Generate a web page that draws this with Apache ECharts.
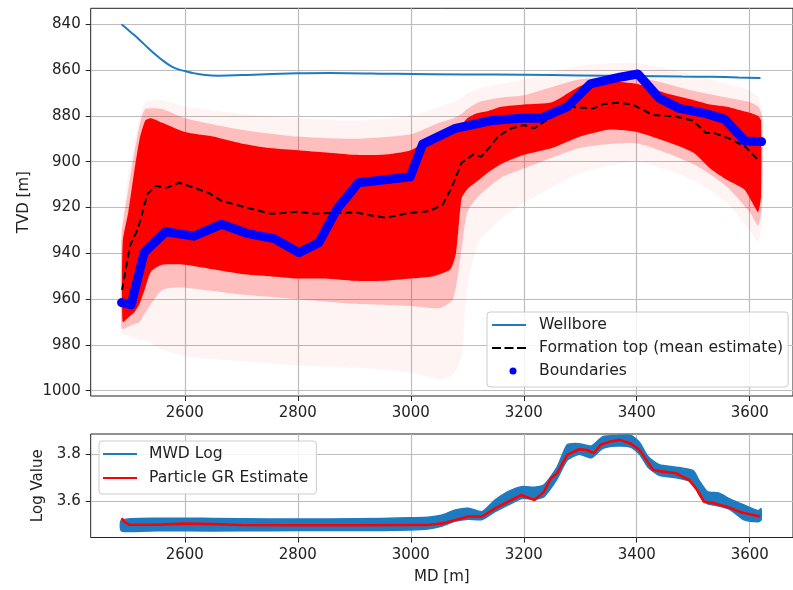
<!DOCTYPE html>
<html><head><meta charset="utf-8">
<script src="https://cdn.jsdelivr.net/npm/echarts@6/dist/echarts.min.js"></script>
<style>html,body{margin:0;padding:0;background:#fff}#c{width:793px;height:590px}</style>
</head><body><div id="c"></div><script>
// ---- tick labels ----
const mdTicks = [2600, 2800, 3000, 3200, 3400, 3600];
const tvdTicks = [840, 860, 880, 900, 920, 940, 960, 980, 1000];
const logTicks = [3.6, 3.8];

// ---- wellbore ----
const wellMD  = [2488,2500,2510,2520,2535,2549,2563,2577,2590,2600,2615,2636,2659,2711,2799,2857,2974,3100,3200,3300,3400,3480,3533,3580,3619];
const wellTVD = [840,842.5,844.6,846.8,850.3,853.4,856.2,858.5,859.8,860.4,861.3,862.1,862.4,862.1,861.4,861.2,861.6,861.9,862.0,862.3,862.6,862.8,862.9,863.2,863.4];

// ---- formation top (mean estimate) ----
const meanMD  = [2489,2503,2517,2534,2549,2566,2590,2616,2642,2665,2706,2752,2775,2799,2828,2869,2904,2930,2957,2997,3032,3056,3073,3090,3111,3125,3143,3154,3178,3201,3219,3236,3283,3324,3341,3370,3394,3429,3469,3499,3522,3539,3563,3592,3615];
const meanTVD = [956,936.6,929.3,914,910.5,911.5,909.2,911.3,913.6,917.1,919.8,922.7,922.4,921.8,922.7,922.3,922.2,923.5,924.4,922.4,921.6,918.9,910.9,900.4,896.8,897.8,892.7,889,885.4,884,885.4,882.5,876,876.7,874.8,874.2,875.2,879.6,880.3,882,887.3,887.6,889.8,893.4,899.3];

// ---- boundaries ----
const bndMD  = [2488,2505,2528,2566,2616,2665,2712,2758,2802,2837,2869,2907,2974,2999,3021,3079,3143,3196,3231,3277,3318,3370,3402,3440,3475,3521,3556,3591,3621];
const bndTVD = [961.5,962.5,939.6,930.6,932.5,927.3,931.4,933.6,939.7,935.4,920.8,909.2,907.3,906.6,892.3,885.4,882,881,881,876,866,863.1,861.7,872.3,876.7,878.9,881.5,890.9,891.2];

// ---- particle cloud: dense core envelope ----
const coreMD  = [2490,2500,2510,2520,2530,2540,2560,2600,2650,2700,2750,2800,2850,2900,2950,3000,3040,3070,3080,3090,3100,3115,3135,3160,3200,3250,3300,3350,3400,3450,3500,3530,3560,3590,3605,3615,3620];
const coreTop = [935,922,905,890,882,881,883,887,889,892,894,895,896,897,897,895,889,887,886,884,881,879,878,876,875,874,867,865,866,870,873,875,876,878,879,880,882];
const coreBot = [970,968,966,962,955,948,945,945,947,949,950,951,951,952,952,951,950,947,940,916,912,909,905,901,897,894,889,886,887,891,896,903,908,912,918,922,915];

// ---- particle cloud: semi-dense streak envelope ----
const midMD  = [2488,2500,2510,2520,2530,2560,2600,2700,2800,2900,3000,3050,3075,3090,3100,3120,3160,3200,3300,3400,3500,3560,3600,3615,3622];
const midTop = [932,912,897,884,877,877,881,886,889,890,888,883,881,879,877,874,872,871,864,863,869,872,874,876,880];
const midBot = [973,972,971,970,966,956,955,958,960,962,963,964,960,938,922,915,907,903,894,892,901,911,922,928,918];

// ---- particle cloud: faint outer envelope ----
const haloMD  = [2488,2500,2510,2520,2530,2560,2600,2700,2800,2900,3000,3050,3075,3090,3100,3120,3160,3200,3300,3400,3500,3560,3600,3615,3622];
const haloTop = [930,905,893,880,874,873,876,879,881,882,880,876,874,872,870,868,866,864,858,857,862,866,869,872,878];
const haloBot = [975,976,977,978,978,982,985,987,989,990,992,995,993,985,955,935,925,918,905,900,908,918,930,935,925];

// ---- MWD log envelope (noisy log) ----
const mwdMD = [2488,2550,2650,2750,2850,2950,3000,3030,3056,3079,3102,3126,3149,3172,3196,3219,3236,3259,3277,3298,3320,3340,3365,3390,3405,3420,3440,3470,3500,3510,3525,3545,3565,3590,3615,3620];
const mwdHi = [3.52,3.528,3.527,3.525,3.525,3.527,3.53,3.532,3.542,3.563,3.57,3.556,3.605,3.641,3.662,3.66,3.67,3.745,3.84,3.845,3.835,3.875,3.88,3.88,3.85,3.79,3.755,3.745,3.73,3.69,3.641,3.635,3.61,3.584,3.56,3.568];
const mwdLo = [3.474,3.475,3.474,3.475,3.476,3.476,3.478,3.482,3.495,3.516,3.524,3.522,3.556,3.584,3.612,3.61,3.62,3.695,3.775,3.8,3.785,3.825,3.835,3.83,3.8,3.745,3.71,3.7,3.68,3.63,3.59,3.58,3.565,3.521,3.513,3.52];

// ---- particle GR estimate ----
const grMD  = [2488,2494,2502,2550,2600,2650,2700,2800,2900,3000,3032,3056,3079,3102,3126,3149,3172,3196,3219,3236,3248,3259,3277,3298,3312,3324,3336,3353,3370,3388,3405,3417,3429,3446,3469,3493,3507,3519,3539,3563,3586,3618];
const grVal = [3.528,3.51,3.5,3.5,3.505,3.503,3.499,3.498,3.498,3.499,3.499,3.506,3.52,3.535,3.535,3.57,3.598,3.627,3.605,3.641,3.698,3.719,3.797,3.821,3.818,3.804,3.84,3.854,3.861,3.847,3.818,3.776,3.733,3.726,3.719,3.69,3.648,3.598,3.591,3.574,3.552,3.535];

const zip = (a, b) => a.map((v, i) => [v, b[i]]);
const FONT = 'DejaVu Sans';
const TXT = '#222';

function band(name, md, top, bot, xi, yi, style, z) {
  return {
    type: 'custom', name: name, xAxisIndex: xi, yAxisIndex: yi, z: z, silent: true, clip: true,
    data: [[md[0], top[0]]],
    renderItem: function (params, api) {
      const pts = [];
      for (let i = 0; i < md.length; i++) pts.push(api.coord([md[i], top[i]]));
      for (let i = md.length - 1; i >= 0; i--) pts.push(api.coord([md[i], bot[i]]));
      return { type: 'polygon', shape: { points: pts, smooth: 0.2 }, style: style };
    }
  };
}

const lineIcon = 'path://M0,0M42,7M0,2.5H34V4.5H0Z';
const dashIcon = 'path://M0,0M42,7M0,2.5H9V4.5H0ZM12.5,2.5H21.5V4.5H12.5ZM25,2.5H34V4.5H25Z';
const lineIcon2 = 'path://M0,0M41,7M0,2.4H34V4.6H0Z';

function xAx(gi, name) {
  return {
    type: 'value', gridIndex: gi, min: 2433.4, max: 3676.6,
    axisLine: { show: false },
    axisTick: { show: true, length: 5, lineStyle: { color: TXT }, customValues: mdTicks },
    axisLabel: { customValues: mdTicks, fontSize: 15, fontFamily: FONT, color: TXT, margin: 10, formatter: v => String(v) },
    splitLine: { show: true, lineStyle: { color: '#bdbdbd', width: 1.2 } },
    name: name, nameLocation: 'middle', nameGap: 32,
    nameTextStyle: { fontSize: 15, fontFamily: FONT, color: TXT }
  };
}

const option = {
  animation: false,
  backgroundColor: '#fff',
  grid: [
    { left: 90.7, right: -8.8, top: 8.3, height: 387.7, show: true, borderColor: '#222', borderWidth: 1, backgroundColor: 'transparent' },
    { left: 90.7, right: -8.8, top: 434, height: 103.5, show: true, borderColor: '#222', borderWidth: 1, backgroundColor: 'transparent' }
  ],
  xAxis: [xAx(0, ''), xAx(1, 'MD [m]')],
  yAxis: [
    {
      type: 'value', gridIndex: 0, inverse: true, min: 833, max: 1002.3,
      axisLine: { show: false },
      axisTick: { show: true, length: 5, lineStyle: { color: TXT }, customValues: tvdTicks },
      axisLabel: { customValues: tvdTicks, fontSize: 15, fontFamily: FONT, color: TXT, margin: 10, formatter: v => String(v) },
      splitLine: { show: true, lineStyle: { color: '#bdbdbd', width: 1.2 } },
      name: 'TVD [m]', nameLocation: 'middle', nameGap: 57,
      nameTextStyle: { fontSize: 15, fontFamily: FONT, color: TXT }
    },
    {
      type: 'value', gridIndex: 1, min: 3.446, max: 3.886,
      axisLine: { show: false },
      axisTick: { show: true, length: 5, lineStyle: { color: TXT }, customValues: logTicks },
      axisLabel: { customValues: logTicks, fontSize: 15, fontFamily: FONT, color: TXT, margin: 10, formatter: v => v.toFixed(1) },
      splitLine: { show: true, lineStyle: { color: '#bdbdbd', width: 1.2 } },
      name: 'Log Value', nameLocation: 'middle', nameGap: 44,
      nameTextStyle: { fontSize: 15, fontFamily: FONT, color: TXT }
    }
  ],
  legend: [
    {
      orient: 'vertical', left: 487, top: 312, itemWidth: 42, itemHeight: 7, itemGap: 7,
      padding: [5, 5, 8, 5], backgroundColor: 'rgba(255,255,255,0.85)', borderColor: '#cccccc', borderWidth: 1, borderRadius: 3,
      textStyle: { fontSize: 15.6, fontFamily: FONT, color: TXT },
      itemStyle: { borderWidth: 0 }, symbolKeepAspect: true, selectedMode: false,
      data: [
        { name: 'Wellbore', icon: lineIcon },
        { name: 'Formation top (mean estimate)', icon: dashIcon },
        { name: 'Boundaries', icon: 'circle' }
      ]
    },
    {
      orient: 'vertical', left: 99, top: 441, itemWidth: 41, itemHeight: 7, itemGap: 8,
      padding: [5, 8, 8, 4], backgroundColor: 'rgba(255,255,255,0.85)', borderColor: '#cccccc', borderWidth: 1, borderRadius: 3,
      textStyle: { fontSize: 15.6, fontFamily: FONT, color: TXT },
      itemStyle: { borderWidth: 0 }, selectedMode: false,
      data: [
        { name: 'MWD Log', icon: lineIcon2 },
        { name: 'Particle GR Estimate', icon: lineIcon2 }
      ]
    }
  ],
  series: [
    band('halo', haloMD, haloTop, haloBot, 0, 0, { fill: 'rgba(255,0,0,0.045)' }, 1),
    band('mid', midMD, midTop, midBot, 0, 0, { fill: 'rgba(255,0,0,0.22)' }, 1),
    band('core', coreMD, coreTop, coreBot, 0, 0, { fill: '#ff0000' }, 2),
    {
      type: 'line', name: 'Wellbore', xAxisIndex: 0, yAxisIndex: 0, z: 3, color: '#1f7bc0',
      data: zip(wellMD, wellTVD), smooth: 0.3, showSymbol: false, symbol: 'none',
      lineStyle: { color: '#1f7bc0', width: 2 }
    },
    {
      type: 'line', name: 'Formation top (mean estimate)', xAxisIndex: 0, yAxisIndex: 0, z: 4, color: '#000',
      data: zip(meanMD, meanTVD), showSymbol: false, symbol: 'none',
      lineStyle: { color: '#000', width: 2, type: [7, 4] }
    },
    {
      type: 'line', name: 'Boundaries', xAxisIndex: 0, yAxisIndex: 0, z: 5, color: '#0000ff',
      data: zip(bndMD, bndTVD), showSymbol: false, symbol: 'none',
      lineStyle: { color: '#0000ff', width: 9, cap: 'round', join: 'round' }
    },
    Object.assign(band('MWD Log', mwdMD, mwdHi, mwdLo, 1, 1, { fill: '#1f7bc0', stroke: '#1f7bc0', lineWidth: 1.5 }, 1), { color: '#1f7bc0' }),
    {
      type: 'line', name: 'Particle GR Estimate', xAxisIndex: 1, yAxisIndex: 1, z: 3, color: '#ff0000',
      data: zip(grMD, grVal), showSymbol: false, symbol: 'none',
      lineStyle: { color: '#ff0000', width: 2.6 }
    }
  ]
};

const chart = echarts.init(document.getElementById('c'), null, { renderer: 'canvas' });
chart.setOption(option);
</script></body></html>
